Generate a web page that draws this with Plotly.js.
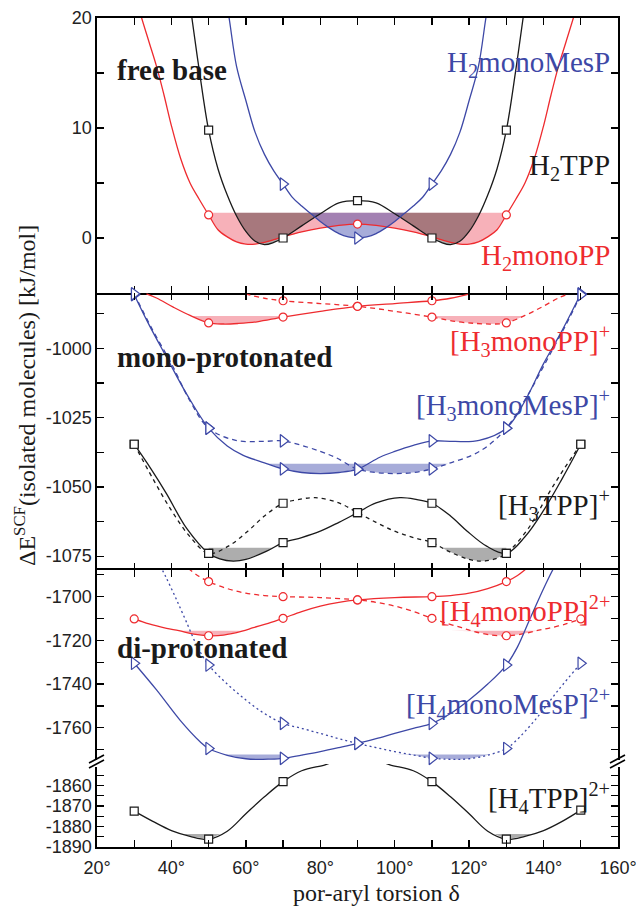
<!DOCTYPE html>
<html><head><meta charset="utf-8">
<script src="https://cdn.plot.ly/plotly-3.0.1.min.js"></script>
<style>html,body{margin:0;padding:0;background:#fff}#chart{width:636px;height:907px}</style>
</head><body><div id="chart"></div>
<script>
// ================= DATA =================
// x axis: por-aryl torsion angle (degrees)
const xTickVals = [20,40,60,80,100,120,140,160];
const xTickText = ['20°','40°','60°','80°','100°','120°','140°','160°'];
const xMinorVals = [30,50,70,90,110,130,150];

// ---- panel 1: free base (kJ/mol) ----
const h2tppMarkX = [50,70,90,110,130];
const h2tppMarkY = [9.8,0,3.4,0,9.8];
const h2tppCurveX = [44.5,45.5,47.5,50,52.5,55,57.5,60,62.5,65,67.5,70,75,80,85,90,95,100,105,110,112.5,115,117.5,120,122.5,125,127.5,130,132.5,134.5,135.5];
const h2tppCurveY = [22.5,20,15.2,9.8,6.3,3.9,2.0,0.6,-0.3,-0.6,-0.4,0,1.1,2.2,3.2,3.4,3.2,2.2,1.1,0,-0.4,-0.6,-0.3,0.6,2.0,3.9,6.3,9.8,15.2,20,22.5];

const h2ppMarkX = [50,90,130];
const h2ppMarkY = [2.1,1.27,2.1];
const h2ppCurveX = [31,32,34,36,38,40,42.5,45,47.5,50,52.5,55,57.5,60,62.5,65,67.5,70,75,80,85,90,95,100,105,110,112.5,115,117.5,120,122.5,125,127.5,130,132.5,135,137.5,140,142,144,146,148,149];
const h2ppCurveY = [21.2,20,17.8,15.6,13.0,10.2,7.2,5.0,3.5,2.1,0.75,0.1,-0.35,-0.55,-0.55,-0.4,-0.15,0.1,0.55,0.9,1.15,1.27,1.15,0.9,0.55,0.1,-0.15,-0.4,-0.55,-0.55,-0.35,0.1,0.75,2.1,3.5,5.0,7.2,10.2,13.0,15.6,17.8,20,21.2];

const h2mesMarkX = [70,90,110];
const h2mesMarkY = [4.9,0,4.9];
const h2mesCurveX = [54.5,55.5,57.5,60,62.5,65,67.5,70,72.5,75,77.5,80,82.5,85,87.5,90,92.5,95,97.5,100,102.5,105,107.5,110,112.5,115,117.5,120,122.5,124.5,125.5];
const h2mesCurveY = [22,20,15.6,12.5,9.6,7.6,6.1,4.9,3.7,2.9,2.2,1.5,0.9,0.4,0.1,0,0.1,0.4,0.9,1.5,2.2,2.9,3.7,4.9,6.1,7.6,9.6,12.5,15.6,20,22];

// ---- panel 2: mono-protonated ----
const h3ppMarkX = [50,70,90,110];
const h3ppMarkY = [-990.8,-988.7,-984.8,-982.8];
const h3ppCurveX = [33.3,36,40.5,45,50,54,58,63,70,80,90,100,110,115,120.2];
const h3ppCurveY = [-980.3,-981.8,-985.1,-988.1,-990.8,-991.2,-991.0,-990.4,-988.7,-986.6,-984.8,-983.8,-982.8,-981.9,-980.3];
const h3ppDashMarkX = [70,90,110,130];
const h3ppDashMarkY = [-982.8,-984.8,-988.7,-990.8];
const h3ppDashX = [59.8,65,70,80,90,100,110,117,122,126,130,135,139.5,144,146.7];
const h3ppDashY = [-980.3,-981.9,-982.8,-983.8,-984.8,-986.6,-988.7,-990.4,-991.0,-991.2,-990.8,-988.1,-985.1,-981.8,-980.3];

const h3mesMarkX = [30,50,70,90,110,130,150];
const h3mesMarkY = [-980.6,-1028.8,-1043.5,-1043.6,-1033.4,-1028.8,-980.3];
const h3mesCurveX = [30,34,38.7,44.1,50,55,59.3,65,70,75,80,85,90,96,100,105,110,116,122.7,130,135,140,145,150];
const h3mesCurveY = [-980.6,-991.5,-1003.2,-1016.5,-1028.8,-1035.2,-1038.6,-1041.3,-1043.5,-1044.8,-1045.2,-1044.8,-1043.6,-1039.3,-1037.2,-1035.0,-1033.4,-1033.6,-1033.2,-1028.8,-1019,-1005.5,-993.5,-980.3];
const h3mesDashMarkX = [30,50,70,90,110,130,150];
const h3mesDashMarkY = [-980.3,-1028.8,-1033.4,-1043.6,-1043.5,-1028.8,-980.6];
const h3mesDashX = [30,35,40,45,50,57.3,64,70,75,80,84,90,95,100,105,110,115,120.7,125,130,135.9,141.3,146,150];
const h3mesDashY = [-980.3,-993.5,-1005.5,-1019,-1028.8,-1033.2,-1033.6,-1033.4,-1035.0,-1037.2,-1039.3,-1043.6,-1044.8,-1045.2,-1044.8,-1043.5,-1041.3,-1038.6,-1035.2,-1028.8,-1016.5,-1003.2,-991.5,-980.6];

const h3tppMarkX = [30,50,70,90,110,130,150];
const h3tppMarkY = [-1034.6,-1074,-1070.1,-1059.3,-1055.9,-1074,-1034.6];
const h3tppCurveX = [30,34.5,38.7,44.1,50,53,56.6,60,65.6,70,75,80,85,90,95,101.4,106,110,115,119.4,124.7,130,135,140,145,150];
const h3tppCurveY = [-1034.6,-1043.5,-1052.5,-1065,-1074,-1076,-1076.8,-1076.2,-1073.2,-1070.1,-1068.3,-1066,-1062.8,-1059.3,-1055.8,-1053.9,-1054.6,-1055.9,-1060.5,-1065.9,-1071.4,-1074,-1068,-1058.5,-1047,-1034.6];
const h3tppDashMarkX = [30,50,70,90,110,130,150];
const h3tppDashMarkY = [-1034.6,-1074,-1055.9,-1059.3,-1070.1,-1074,-1034.6];
const h3tppDashX = [30,35,40,45,50,55.3,60.6,65,70,74,78.6,85,90,95,100,105,110,114.4,120,123.4,127,130,135.9,141.3,145.5,150];
const h3tppDashY = [-1034.6,-1047,-1058.5,-1068,-1074,-1071.4,-1065.9,-1060.5,-1055.9,-1054.6,-1053.9,-1055.8,-1059.3,-1062.8,-1066,-1068.3,-1070.1,-1073.2,-1076.2,-1076.8,-1076,-1074,-1065,-1052.5,-1043.5,-1034.6];

// ---- panel 3: di-protonated (upper part) ----
const h4ppMarkX = [30,50,70,90,110,130];
const h4ppMarkY = [-1710.2,-1717.9,-1709.9,-1701.5,-1700,-1693.1];
const h4ppCurveX = [30,34,38.7,42,46,50,54,59,62,66,70,75,80,85,90,100,110,115,120,125,130,133,135.5];
const h4ppCurveY = [-1710.2,-1712.5,-1714.5,-1715.6,-1717.2,-1717.9,-1717.6,-1715.8,-1714.2,-1712.2,-1709.9,-1706.8,-1704.3,-1702.6,-1701.5,-1700.4,-1700,-1699.5,-1698.4,-1696.3,-1693.1,-1690.3,-1687];
const h4ppDashMarkX = [50,70,90,110,130,150];
const h4ppDashMarkY = [-1693.1,-1700,-1701.5,-1709.9,-1717.9,-1710.2];
const h4ppDashX = [44.5,47,50,55,60,65,70,80,90,95,100,105,110,114,118,121,126,130,134,138,141.3,146,150];
const h4ppDashY = [-1687,-1690.3,-1693.1,-1696.3,-1698.4,-1699.5,-1700,-1700.4,-1701.5,-1702.6,-1704.3,-1706.8,-1709.9,-1712.2,-1714.2,-1715.8,-1717.6,-1717.9,-1717.2,-1715.6,-1714.5,-1712.5,-1710.2];

const h4mesMarkX = [30,50,70,90,110,130];
const h4mesMarkY = [-1730.5,-1769.5,-1774.0,-1767.2,-1758.0,-1731.3];
const h4mesCurveX = [30,36,42.3,47.7,50,55,60,63,66,70,75,80,85,90,95,100,105,110,115,120,125,130,133,136.2,139,141.5,143];
const h4mesCurveY = [-1730.5,-1742.7,-1756.5,-1766.4,-1769.5,-1772.6,-1774.2,-1774.5,-1774.4,-1774.0,-1772.5,-1770.9,-1769.1,-1767.2,-1765.0,-1762.6,-1760.3,-1758.0,-1753.5,-1747.3,-1740,-1731.3,-1723,-1710.7,-1700,-1691,-1686];
const h4mesDotMarkX = [50,70,90,110,130,150];
const h4mesDotMarkY = [-1731.3,-1758.0,-1767.2,-1774.0,-1769.5,-1730.5];
const h4mesDotX = [37,38.5,41,43.8,47,50,55,60,65,70,75,80,85,90,95,100,105,110,114,117,120,125,130,132.3,137.7,144,150];
const h4mesDotY = [-1686,-1691,-1700,-1710.7,-1723,-1731.3,-1740,-1747.3,-1753.5,-1758.0,-1760.3,-1762.6,-1765.0,-1767.2,-1769.1,-1770.9,-1772.5,-1774.0,-1774.4,-1774.5,-1774.2,-1772.6,-1769.5,-1766.4,-1756.5,-1742.7,-1730.5];

// ---- panel 4: di-protonated H4TPP (lower part, below the axis break) ----
const h4tppMarkX = [30,50,70,110,130,150];
const h4tppMarkY = [-1872.5,-1886.2,-1858.1,-1858.1,-1886.2,-1872.0];
const h4tppLeftX = [30,35,40,45,50,55,60,65,70,75,81.3,84];
const h4tppLeftY = [-1872.5,-1877.5,-1882,-1884.8,-1886.2,-1882.3,-1873.8,-1865.5,-1858.1,-1852.8,-1849.9,-1848];
const h4tppRightX = [96,98.7,105,110,115,120,125,130,135,140,145,150];
const h4tppRightY = [-1848,-1849.9,-1852.8,-1858.1,-1865.5,-1873.8,-1882.3,-1886.2,-1884.8,-1882,-1877.5,-1872.0];

// ---- y tick values ----
const y1Major = [0,10,20],            y1Minor = [5,15];
const y2Major = [-1075,-1050,-1025,-1000], y2Minor = [-1062.5,-1037.5,-1012.5,-987.5];
const y3Major = [-1760,-1740,-1720,-1700], y3Minor = [-1770,-1750,-1730,-1710,-1690];
const y4Major = [-1890,-1880,-1870,-1860], y4Minor = [-1885,-1875,-1865,-1855];

// ---- shaded populations: [threshold energy, from angle, to angle] ----
const fillH2pp   = [2.3, 45, 135];
const fillH2tpp  = [2.3, 45, 135];
const fillH2mes  = [2.3, 60, 120];
const fillH3pp   = [-988.3, 40, 70];
const fillH3ppD  = [-988.3, 110, 140];
const fillH3mes  = [-1041.6, 60, 90];
const fillH3mesD = [-1041.6, 90, 120];
const fillH3tpp  = [-1072, 50, 70];
const fillH3tppD = [-1072, 110, 130];
const fillH4pp   = [-1715.6, 35, 65];
const fillH4ppD  = [-1715.6, 115, 145];
const fillH4mes  = [-1772.2, 50, 70];
const fillH4mesD = [-1772.2, 100, 130];
const fillH4tppL = [-1883.7, 40, 60];
const fillH4tppR = [-1883.7, 120, 140];

// ================= DRAWING =================
const RED = '#ee2b2f', BLUE = '#3d48a6', BLACK = '#1a1a1a';
const RED_F = 'rgba(236,60,80,0.40)', BLUE_F = 'rgba(60,70,170,0.45)', BLACK_F = 'rgba(0,0,0,0.32)';
const SERIF = 'Liberation Serif, Times New Roman, serif';
const SANS = 'Liberation Sans, Arial, sans-serif';

function ax(p){ return p===1 ? {xaxis:'x', yaxis:'y'} : {xaxis:'x'+p, yaxis:'y'+p}; }

function lineTrace(p, xs, ys, color, dash){
  return Object.assign({type:'scatter', mode:'lines', x:xs, y:ys, hoverinfo:'skip', showlegend:false,
    line:{color:color, width:1.3, shape:'spline', smoothing:1, dash:dash||'solid'}}, ax(p));
}
function markTrace(p, xs, ys, color, symbol, size){
  return Object.assign({type:'scatter', mode:'markers', x:xs, y:ys, hoverinfo:'skip', showlegend:false, cliponaxis:false,
    marker:{symbol:symbol, size:size, color:'#ffffff', line:{color:color, width:1.2}}}, ax(p));
}
function interp(xs, ys, x){
  for(let i=0;i<xs.length-1;i++){
    if(x>=xs[i] && x<=xs[i+1]){ const t=(x-xs[i])/(xs[i+1]-xs[i]); return ys[i]+t*(ys[i+1]-ys[i]); }
  }
  return x<xs[0] ? ys[0] : ys[ys.length-1];
}
function fillTrace(p, xs, ys, spec, color){
  const thr=spec[0], x0=Math.max(spec[1], xs[0]), x1=Math.min(spec[2], xs[xs.length-1]);
  const pts=[[x0, interp(xs,ys,x0)]];
  xs.forEach((x,i)=>{ if(x>x0 && x<x1) pts.push([x, ys[i]]); });
  pts.push([x1, interp(xs,ys,x1)]);
  const out=[];
  for(let i=0;i<pts.length;i++){
    out.push([pts[i][0], Math.min(pts[i][1], thr)]);
    if(i<pts.length-1){
      const [xa,ya]=pts[i], [xb,yb]=pts[i+1];
      if((ya-thr)*(yb-thr)<0){ const t=(thr-ya)/(yb-ya); out.push([xa+t*(xb-xa), thr]); }
    }
  }
  out.push([x1,thr]); out.push([x0,thr]);
  return Object.assign({type:'scatter', mode:'lines', x:out.map(d=>d[0]), y:out.map(d=>d[1]),
    fill:'toself', fillcolor:color, line:{width:0}, hoverinfo:'skip', showlegend:false}, ax(p));
}

const traces = [
  // panel 1
  fillTrace(1, h2ppCurveX, h2ppCurveY, fillH2pp, RED_F),
  fillTrace(1, h2tppCurveX, h2tppCurveY, fillH2tpp, BLACK_F),
  fillTrace(1, h2mesCurveX, h2mesCurveY, fillH2mes, BLUE_F),
  lineTrace(1, h2ppCurveX, h2ppCurveY, RED),
  lineTrace(1, h2tppCurveX, h2tppCurveY, BLACK),
  lineTrace(1, h2mesCurveX, h2mesCurveY, BLUE),
  markTrace(1, h2ppMarkX, h2ppMarkY, RED, 'circle', 8),
  markTrace(1, h2tppMarkX, h2tppMarkY, BLACK, 'square', 8),
  markTrace(1, h2mesMarkX, h2mesMarkY, BLUE, 'triangle-right', 11),
  // panel 2
  fillTrace(2, h3ppCurveX, h3ppCurveY, fillH3pp, RED_F),
  fillTrace(2, h3ppDashX, h3ppDashY, fillH3ppD, RED_F),
  fillTrace(2, h3mesCurveX, h3mesCurveY, fillH3mes, BLUE_F),
  fillTrace(2, h3mesDashX, h3mesDashY, fillH3mesD, BLUE_F),
  fillTrace(2, h3tppCurveX, h3tppCurveY, fillH3tpp, BLACK_F),
  fillTrace(2, h3tppDashX, h3tppDashY, fillH3tppD, BLACK_F),
  lineTrace(2, h3ppCurveX, h3ppCurveY, RED),
  lineTrace(2, h3ppDashX, h3ppDashY, RED, '5px,4px'),
  lineTrace(2, h3mesCurveX, h3mesCurveY, BLUE),
  lineTrace(2, h3mesDashX, h3mesDashY, BLUE, '5px,4px'),
  lineTrace(2, h3tppCurveX, h3tppCurveY, BLACK),
  lineTrace(2, h3tppDashX, h3tppDashY, BLACK, '4px,4px'),
  markTrace(2, h3ppMarkX, h3ppMarkY, RED, 'circle', 8),
  markTrace(2, h3ppDashMarkX, h3ppDashMarkY, RED, 'circle', 8),
  markTrace(2, h3mesMarkX, h3mesMarkY, BLUE, 'triangle-right', 11),
  markTrace(2, h3mesDashMarkX, h3mesDashMarkY, BLUE, 'triangle-right', 11),
  markTrace(2, h3tppMarkX, h3tppMarkY, BLACK, 'square', 8),
  markTrace(2, h3tppDashMarkX, h3tppDashMarkY, BLACK, 'square', 8),
  // panel 3
  fillTrace(3, h4ppCurveX, h4ppCurveY, fillH4pp, RED_F),
  fillTrace(3, h4ppDashX, h4ppDashY, fillH4ppD, RED_F),
  fillTrace(3, h4mesCurveX, h4mesCurveY, fillH4mes, BLUE_F),
  fillTrace(3, h4mesDotX, h4mesDotY, fillH4mesD, BLUE_F),
  lineTrace(3, h4ppCurveX, h4ppCurveY, RED),
  lineTrace(3, h4ppDashX, h4ppDashY, RED, '5px,4px'),
  lineTrace(3, h4mesCurveX, h4mesCurveY, BLUE),
  lineTrace(3, h4mesDotX, h4mesDotY, BLUE, '2px,3px'),
  markTrace(3, h4ppMarkX, h4ppMarkY, RED, 'circle', 8),
  markTrace(3, h4ppDashMarkX, h4ppDashMarkY, RED, 'circle', 8),
  markTrace(3, h4mesMarkX, h4mesMarkY, BLUE, 'triangle-right', 11),
  markTrace(3, h4mesDotMarkX, h4mesDotMarkY, BLUE, 'triangle-right', 11),
  // panel 4
  fillTrace(4, h4tppLeftX, h4tppLeftY, fillH4tppL, BLACK_F),
  fillTrace(4, h4tppRightX, h4tppRightY, fillH4tppR, BLACK_F),
  lineTrace(4, h4tppLeftX, h4tppLeftY, BLACK),
  lineTrace(4, h4tppRightX, h4tppRightY, BLACK),
  markTrace(4, h4tppMarkX, h4tppMarkY, BLACK, 'square', 8)
];

// ---- layout geometry (pixels of the 636x907 page) ----
const L=97, R=618, T=18, B=847;
const fx = px => (px-L)/(R-L);
const fy = py => (B-py)/(B-T);

const minorTicks = vals => ({tickmode:'array', tickvals:vals, ticks:'inside', ticklen:7, tickwidth:1.3, tickcolor:'#000', showgrid:false});
const xCommon = {range:[20,160], showline:true, linecolor:'#000', linewidth:1.6, ticks:'inside', ticklen:7,
  tickwidth:1.3, tickcolor:'#000', tickmode:'array', tickvals:xTickVals, ticktext:xTickText, minor:minorTicks(xMinorVals),
  showgrid:false, zeroline:false, fixedrange:true, domain:[0,1]};
const yCommon = {showline:true, linecolor:'#000', linewidth:1.6, ticks:'inside', ticklen:7, tickwidth:1.3,
  tickcolor:'#000', mirror:'allticks', showgrid:false, zeroline:false, fixedrange:true, tickmode:'array',
  tickfont:{family:SANS, size:18, color:'#222'}};

const layout = {
  width:636, height:907, margin:{l:L, r:636-R, t:T, b:907-B}, paper_bgcolor:'#fff', plot_bgcolor:'rgba(0,0,0,0)',
  showlegend:false, font:{family:SANS, size:18, color:'#222'},
  xaxis: Object.assign({}, xCommon, {anchor:'y', mirror:'allticks', showticklabels:false}),
  xaxis2: Object.assign({}, xCommon, {anchor:'y2', mirror:'allticks', showticklabels:false, linecolor:'rgba(0,0,0,0)'}),
  xaxis3: Object.assign({}, xCommon, {anchor:'y3', side:'top', showticklabels:false}),
  xaxis4: Object.assign({}, xCommon, {anchor:'y4', side:'bottom', showticklabels:true, ticklabeloverflow:'allow',
           ticklabelstandoff:4, tickfont:{family:SANS, size:18, color:'#222'}}),
  yaxis: Object.assign({}, yCommon, {anchor:'x', domain:[fy(293),1], range:[-5,20],
           tickvals:y1Major, ticktext:y1Major.map(String), minor:minorTicks(y1Minor)}),
  yaxis2: Object.assign({}, yCommon, {anchor:'x2', domain:[fy(570),fy(293)], range:[-1080,-980],
           tickvals:y2Major, ticktext:y2Major.map(String), minor:minorTicks(y2Minor)}),
  yaxis3: Object.assign({}, yCommon, {anchor:'x3', domain:[fy(764),fy(570)], range:[-1776.6,-1687.8],
           tickvals:y3Major, ticktext:y3Major.map(String), minor:minorTicks(y3Minor)}),
  yaxis4: Object.assign({}, yCommon, {anchor:'x4', domain:[0,fy(764)], range:[-1890,-1849.5],
           tickvals:y4Major, ticktext:y4Major.map(String), minor:minorTicks(y4Minor)}),
  annotations: [],
  shapes: []
};

function txt(text, px, py, opts){
  return Object.assign({text:text, x:fx(px), y:fy(py), xref:'paper', yref:'paper', showarrow:false,
    xanchor:'right', yanchor:'middle', font:{family:SERIF, size:29, color:BLACK}}, opts||{});
}
layout.annotations.push(
  txt('<b>free base</b>', 115, 70, {xanchor:'left'}),
  txt('<b>mono-protonated</b>', 115, 357, {xanchor:'left'}),
  txt('<b>di-protonated</b>', 115, 648, {xanchor:'left'}),
  txt('H<sub>2</sub>monoMesP', 612, 64, {font:{family:SERIF, size:29, color:BLUE}}),
  txt('H<sub>2</sub>TPP', 612, 167, {font:{family:SERIF, size:29, color:BLACK}}),
  txt('H<sub>2</sub>monoPP', 612, 257, {font:{family:SERIF, size:29, color:RED}}),
  txt('[H<sub>3</sub>monoPP]<sup>+</sup>', 612, 341, {font:{family:SERIF, size:29, color:RED}}),
  txt('[H<sub>3</sub>monoMesP]<sup>+</sup>', 612, 405, {font:{family:SERIF, size:29, color:BLUE}}),
  txt('[H<sub>3</sub>TPP]<sup>+</sup>', 612, 505, {font:{family:SERIF, size:29, color:BLACK}}),
  txt('[H<sub>4</sub>monoPP]<sup>2+</sup>', 612, 611, {font:{family:SERIF, size:29, color:RED}}),
  txt('[H<sub>4</sub>monoMesP]<sup>2+</sup>', 612, 704, {font:{family:SERIF, size:29, color:BLUE}}),
  txt('[H<sub>4</sub>TPP]<sup>2+</sup>', 612, 798, {font:{family:SERIF, size:29, color:BLACK}}),
  txt('ΔE<sup>SCF</sup>(isolated molecules) [kJ/mol]', 25, 396, {xanchor:'center', textangle:-90, font:{family:SERIF, size:24, color:BLACK}}),
  txt('por-aryl torsion δ', 376, 893, {xanchor:'center', font:{family:SERIF, size:24, color:BLACK}})
);

// axis-break marks on both y axes
[L, R].forEach(ax0=>{
  layout.shapes.push({type:'rect', xref:'paper', yref:'paper', x0:fx(ax0-3), x1:fx(ax0+3), y0:fy(767), y1:fy(760),
    fillcolor:'#fff', line:{width:0}, layer:'above'});
  [0,5].forEach(d=>{
    layout.shapes.push({type:'line', xref:'paper', yref:'paper', x0:fx(ax0-8), y0:fy(765+d-2), x1:fx(ax0+7), y1:fy(757+d-2),
      line:{color:'#000', width:1.6}, layer:'above'});
  });
});

Plotly.newPlot('chart', traces, layout, {staticPlot:true, displayModeBar:false});
</script>
</body></html>
